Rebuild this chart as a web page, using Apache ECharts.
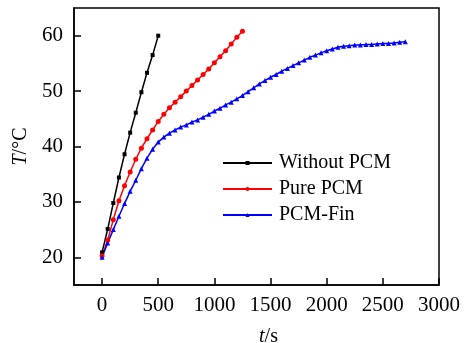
<!DOCTYPE html>
<html>
<head>
    <meta charset="utf-8">
    <title>T vs t</title>
    <script src="https://cdn.jsdelivr.net/npm/echarts@6/dist/echarts.min.js"></script>
    <style>
        * { margin: 0; padding: 0; }
        html, body { background: #fff; }
        #chart { width: 464px; height: 343px; }
    </style>
</head>
<body>
<div id="chart"></div>
<script>
    // time steps (s), 50 s apart
    var tNoPcm = [0, 50, 100, 150, 200, 250, 300, 350, 400, 450, 500];
    var TNoPcm = [20.9, 25.1, 29.8, 34.4, 38.6, 42.5, 46.1, 49.8, 53.3, 56.5, 60.0];

    var tPure = [0, 50, 100, 150, 200, 250, 300, 350, 400, 450, 500, 550, 600, 650, 700,
        750, 800, 850, 900, 950, 1000, 1050, 1100, 1150, 1200, 1250];
    var TPure = [20.3, 23.1, 26.8, 30.2, 32.9, 35.4, 37.7, 39.7, 41.4, 43.0, 44.5, 45.8, 47.0, 48.0, 49.0,
        50.0, 51.0, 52.0, 53.0, 54.0, 55.1, 56.2, 57.3, 58.5, 59.7, 60.8];

    var tFin = [0, 50, 100, 150, 200, 250, 300, 350, 400, 450, 500, 550, 600, 650, 700,
        750, 800, 850, 900, 950, 1000, 1050, 1100, 1150, 1200, 1250, 1300, 1350, 1400, 1450,
        1500, 1550, 1600, 1650, 1700, 1750, 1800, 1850, 1900, 1950, 2000, 2050, 2100, 2150, 2200,
        2250, 2300, 2350, 2400, 2450, 2500, 2550, 2600, 2650, 2700];
    var TFin = [20.0, 22.6, 25.0, 27.4, 29.7, 31.9, 33.9, 36.0, 37.9, 39.5, 40.8, 41.7, 42.4, 43.0, 43.5,
        43.9, 44.4, 44.8, 45.3, 45.8, 46.4, 46.9, 47.5, 48.0, 48.6, 49.2, 49.9, 50.6, 51.3, 51.9,
        52.5, 53.0, 53.6, 54.1, 54.6, 55.1, 55.6, 56.1, 56.5, 56.9, 57.3, 57.6, 57.9, 58.1, 58.2,
        58.3, 58.3, 58.4, 58.4, 58.5, 58.6, 58.6, 58.7, 58.8, 58.9];

    function pairs(xs, ys) {
        var out = [];
        for (var i = 0; i < xs.length; i++) {
            out.push([xs[i], ys[i]]);
        }
        return out;
    }

    var font = '"Liberation Serif", "Times New Roman", serif';
    var chart = echarts.init(document.getElementById('chart'));

    chart.setOption({
        animation: false,
        textStyle: { fontFamily: font, color: '#000' },
        grid: {
            left: 74, top: 8, right: 25, bottom: 58,
            outerBoundsMode: 'none', containLabel: false,
            show: true, borderColor: '#000', borderWidth: 1.5
        },
        legend: {
            left: 217, top: 145,
            orient: 'vertical',
            itemWidth: 49, itemHeight: 5, itemGap: 0,
            textStyle: { fontFamily: font, fontSize: 20, color: '#000', lineHeight: 26, padding: [0, 0, 0, 2] },
            data: ['Without PCM', 'Pure PCM', 'PCM-Fin']
        },
        xAxis: {
            type: 'value',
            min: -250, max: 3000, splitNumber: 7,
            name: '{i|t}/s',
            nameLocation: 'middle', nameGap: 42,
            nameTextStyle: {
                fontFamily: font, fontSize: 20, color: '#000', padding: [0, 0, 0, 24],
                rich: { i: { fontFamily: font, fontSize: 20, fontStyle: 'italic', color: '#000' } }
            },
            axisLine: { onZero: false, lineStyle: { color: '#000', width: 1.5 } },
            axisTick: { inside: true, length: 7, lineStyle: { color: '#000', width: 1.5 } },
            axisLabel: {
                showMinLabel: false, fontSize: 21, color: '#000', margin: 10, fontFamily: font,
                formatter: function (v) { return String(v); }
            },
            splitLine: { show: false }
        },
        yAxis: {
            type: 'value',
            min: 15, max: 65, splitNumber: 5,
            name: '{i|T}/°C',
            nameLocation: 'middle', nameGap: 37, nameRotate: 90,
            nameTextStyle: {
                fontFamily: font, fontSize: 20, color: '#000',
                rich: { i: { fontFamily: font, fontSize: 20, fontStyle: 'italic', color: '#000' } }
            },
            axisLine: { onZero: false, lineStyle: { color: '#000', width: 1.5 } },
            axisTick: { inside: true, length: 7, lineStyle: { color: '#000', width: 1.5 } },
            axisLabel: {
                showMinLabel: false, showMaxLabel: false, fontSize: 21, color: '#000', margin: 11, fontFamily: font
            },
            splitLine: { show: false }
        },
        series: [
            {
                name: 'Without PCM', type: 'line',
                data: pairs(tNoPcm, TNoPcm),
                symbol: 'rect', symbolSize: 4,
                lineStyle: { color: '#000', width: 1.5 },
                itemStyle: { color: '#000' }
            },
            {
                name: 'Pure PCM', type: 'line',
                data: pairs(tPure, TPure),
                symbol: 'circle', symbolSize: 5,
                lineStyle: { color: '#ff0000', width: 1.5 },
                itemStyle: { color: '#ff0000' }
            },
            {
                name: 'PCM-Fin', type: 'line',
                data: pairs(tFin, TFin),
                symbol: 'triangle', symbolSize: 5,
                lineStyle: { color: '#0000ff', width: 1.5 },
                itemStyle: { color: '#0000ff' }
            }
        ]
    });
</script>
</body>
</html>
